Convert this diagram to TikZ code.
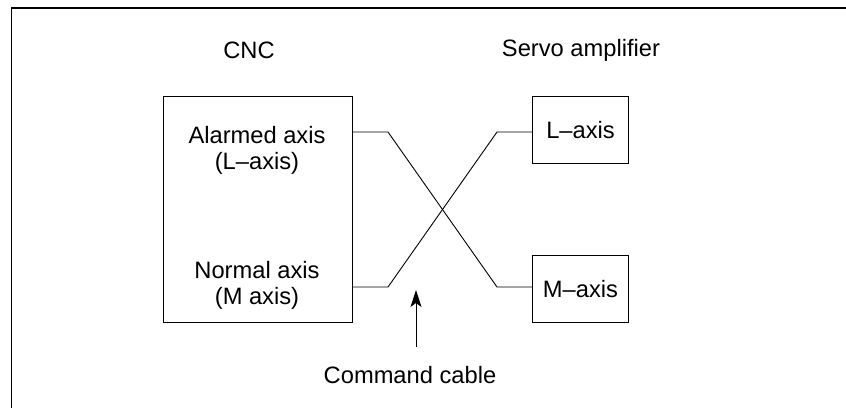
\documentclass[tikz,border=0pt]{standalone}
\usepackage{fontspec}
\setmainfont{Liberation Sans}
\usetikzlibrary{arrows.meta,calc}
\begin{document}
\begin{tikzpicture}[x=1pt,y=-1pt,
  txt/.style={inner sep=0pt,align=center,font=\fontsize{23.7}{26}\selectfont},
  boxshape/.style={draw,line width=1pt},
  cable/.style={line width=0.9pt},
  arr/.style={line width=1pt,-{Stealth[length=17pt,width=11pt,inset=4pt]}}]
\useasboundingbox (0,0) rectangle (846,408);
% outer frame (partial)
\draw[line width=1.6pt] (846,8) -- (11.5,8) -- (11.5,408);
% headings
\node[txt] (cnc) at (249,50) {CNC};
\node[txt] (servo) at (581,50) {Servo amplifier};
% boxes
\draw[boxshape] (163,96) rectangle (352,322);
\draw[boxshape] (532,96) rectangle (628,163);
\draw[boxshape] (532,255) rectangle (628,322);
\coordinate (cncR1) at (352,132);
\coordinate (cncR2) at (352,287);
\coordinate (ampL1) at (532,132);
\coordinate (ampL2) at (532,287);
% labels
\node[txt] (alarmed) at (257,150) {Alarmed axis\\(L–axis)};
\node[txt] (normal) at (257,285) {Normal axis\\(M axis)};
\node[txt] (laxis) at (580.5,130) {L–axis};
\node[txt] (maxis) at (580.5,289) {M–axis};
% cables
\draw[cable] (cncR1) -- ++(36,0) -- ($(ampL2)+(-35,0)$) -- (ampL2);
\draw[cable] (cncR2) -- ++(36,0) -- ($(ampL1)+(-35,0)$) -- (ampL1);
% arrow and label
\node[txt] (cmd) at (410,375) {Command cable};
\coordinate (arrtail) at (416,347);
\coordinate (arrtip) at (416,290);
\draw[arr] (arrtail) -- (arrtip);
\end{tikzpicture}
\end{document}
